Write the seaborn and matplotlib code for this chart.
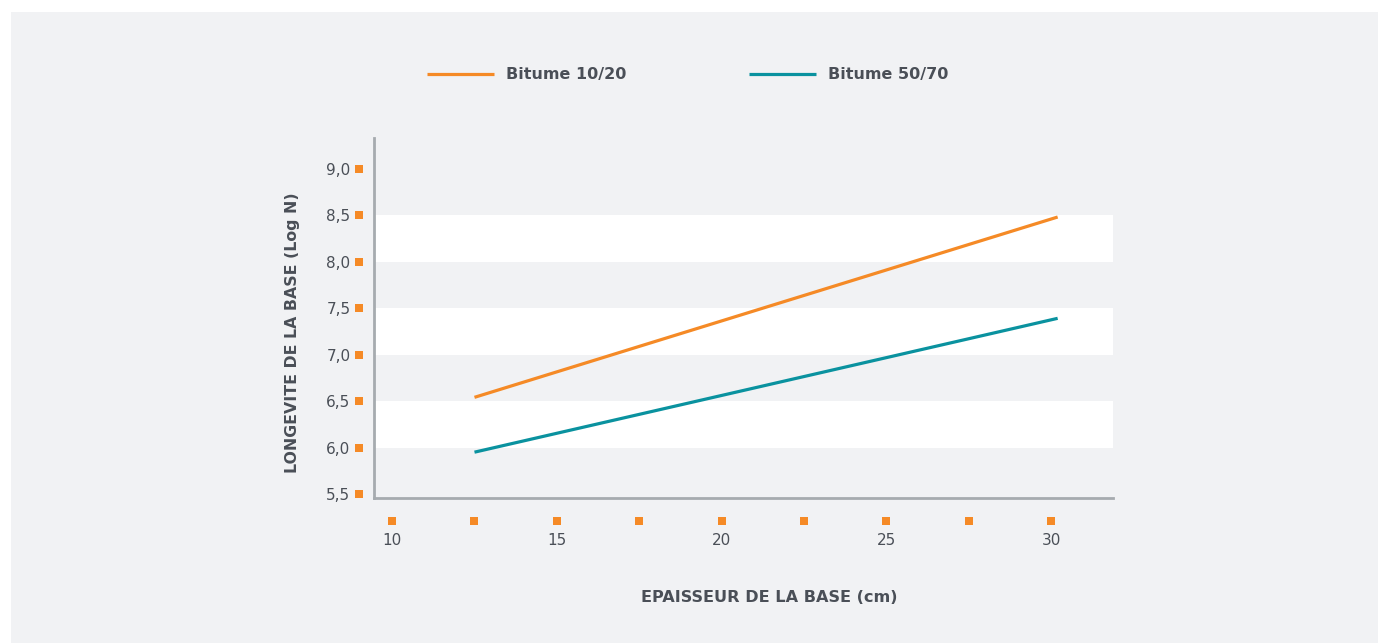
import matplotlib
matplotlib.use("Agg")
import matplotlib.pyplot as plt
from matplotlib.patches import Rectangle
import seaborn as sns
import pandas as pd

# Data
thickness = [12.5, 30.2]
bitume_10_20 = [6.54, 8.48]
bitume_50_70 = [5.95, 7.39]
series_names = ["Bitume 10/20", "Bitume 50/70"]

y_ticks = [5.5, 6.0, 6.5, 7.0, 7.5, 8.0, 8.5, 9.0]
y_tick_labels = ["5,5", "6,0", "6,5", "7,0", "7,5", "8,0", "8,5", "9,0"]
x_ticks = [10, 15, 20, 25, 30]
x_tick_labels = ["10", "15", "20", "25", "30"]
x_marks = [10, 12.5, 15, 17.5, 20, 22.5, 25, 27.5, 30]
bands = [(6.0, 6.5), (7.0, 7.5), (8.0, 8.5)]

ORANGE = "#f58a26"
TEAL = "#0a929f"
PANEL = "#f1f2f4"
TEXT = "#4a4f57"
SPINE = "#a6abaf"

df = pd.DataFrame({
    "x": thickness * 2,
    "y": bitume_10_20 + bitume_50_70,
    "serie": [series_names[0]] * 2 + [series_names[1]] * 2,
})

sns.set_theme(style="white")
plt.rcParams["font.family"] = ["DejaVu Sans"]
plt.rcParams["lines.solid_capstyle"] = "butt"

fig = plt.figure(figsize=(13.78, 6.43), dpi=100)
fig.patch.set_facecolor("white")
fig.patches.append(Rectangle((11 / 1378, 0), 1 - 11 / 1378, 1 - 12 / 643,
                             transform=fig.transFigure, facecolor=PANEL,
                             edgecolor="none", zorder=-10))

ax = fig.add_axes([374 / 1378, 1 - 498 / 643, (1113 - 374) / 1378, (498 - 138) / 643])
ax.set_facecolor(PANEL)

for lo, hi in bands:
    ax.axhspan(lo, hi, color="white", lw=0, zorder=0)

sns.lineplot(data=df, x="x", y="y", hue="serie",
             palette=[ORANGE, TEAL], linewidth=2.3, ax=ax,
             legend=False, zorder=3)

ax.set_xlim(9.45, 31.88)
ax.set_ylim(5.457, 9.33)
ax.set_xlabel("")
ax.set_ylabel("")

for s in ["top", "right"]:
    ax.spines[s].set_visible(False)
for s in ["left", "bottom"]:
    ax.spines[s].set_color(SPINE)
    ax.spines[s].set_linewidth(2)

ax.set_yticks(y_ticks)
ax.set_yticklabels(y_tick_labels)
ax.set_xticks(x_ticks)
ax.set_xticklabels(x_tick_labels)
ax.tick_params(axis="y", length=0, pad=17, labelsize=11, labelcolor=TEXT)
ax.tick_params(axis="x", length=0, pad=25, labelsize=11, labelcolor=TEXT)

# Orange square tick markers
ax.scatter([-0.0203] * len(y_ticks), y_ticks, marker="s", s=36, color=ORANGE,
           transform=ax.get_yaxis_transform(), clip_on=False, zorder=5, lw=0)
ax.scatter(x_marks, [-0.0639] * len(x_marks), marker="s", s=36, color=ORANGE,
           transform=ax.get_xaxis_transform(), clip_on=False, zorder=5, lw=0)

fig.text(292 / 1378, 1 - 333 / 643, "LONGEVITE DE LA BASE (Log N)", rotation=90,
         ha="center", va="center", fontsize=11.3, fontweight="bold", color=TEXT)
fig.text(769 / 1378, 1 - 598 / 643, "EPAISSEUR DE LA BASE (cm)",
         ha="center", va="center", fontsize=11.6, fontweight="bold", color=TEXT)

# Legend: one entry per series, placed side by side
handles = [plt.Line2D([], [], color=ORANGE, lw=2.3),
           plt.Line2D([], [], color=TEAL, lw=2.3)]
for h, name, left in zip(handles, series_names, [427, 749]):
    leg = fig.legend([h], [name], loc="center left",
                     bbox_to_anchor=(left / 1378, 1 - 75 / 643),
                     frameon=False, borderpad=0, borderaxespad=0,
                     handlelength=4.2, handletextpad=0.75,
                     prop={"weight": "bold", "size": 11.5})
    for t in leg.get_texts():
        t.set_color(TEXT)

fig.savefig("out.png", dpi=100, facecolor=fig.get_facecolor())
